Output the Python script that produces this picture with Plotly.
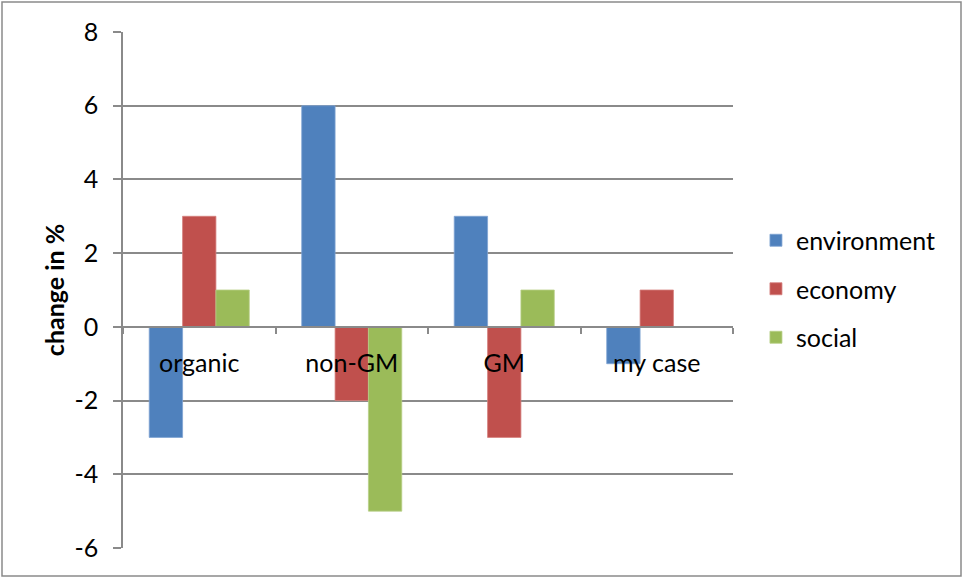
import plotly.graph_objects as go

# Scenario results per sustainability dimension
categories = ["organic", "non-GM", "GM", "my case"]
environment = [-3, 6, 3, -1]
economy = [3, -2, -3, 1]
social = [1, -5, 1, 0]

series_names = ["environment", "economy", "social"]
series_values = [environment, economy, social]
series_colors = ["#4F81BD", "#C0504D", "#9BBB59"]
edge_colors = ["#7FA3D3", "#D5807E", "#B7CF87"]

y_ticks = [-6, -4, -2, 0, 2, 4, 6, 8]
y_tick_labels = ["-6", "-4", "-2", "0", "2", "4", "6", "8"]
y_min, y_max = -6, 8

W, H = 963, 578
ML, MR, MT, MB = 123, 230, 32, 30
plot_w = W - ML - MR
plot_h = H - MT - MB

FONT = "Lato"
GRID = "#8A8A8A"

fig = go.Figure()
for name, vals, col, edge in zip(series_names, series_values, series_colors, edge_colors):
    fig.add_trace(go.Bar(
        x=categories, y=vals, name=name, legendgroup=name,
        marker=dict(color=col, line=dict(color=edge, width=0.8)),
    ))

fig.update_layout(
    width=W, height=H,
    margin=dict(l=ML, r=MR, t=MT, b=MB, pad=0),
    paper_bgcolor="white", plot_bgcolor="white",
    font=dict(family=FONT, size=25, color="black"),
    barmode="group", bargap=0.344, bargroupgap=0,
    showlegend=True,
    legend=dict(
        xref="container", yref="container",
        x=0.785, y=0.5, xanchor="left", yanchor="middle",
        font=dict(family=FONT, size=25, color="black"),
        tracegroupgap=13, itemwidth=30, bgcolor="rgba(0,0,0,0)",
    ),
    xaxis=dict(
        type="category", anchor="free",
        position=(0 - y_min) / (y_max - y_min),
        showline=True, linecolor=GRID, linewidth=1.5,
        showgrid=False, zeroline=False,
        ticks="outside", tickson="boundaries", ticklen=6,
        tickcolor=GRID, tickwidth=1.5,
        ticklabelstandoff=14,
        tickfont=dict(family=FONT, size=25, color="black"),
    ),
    yaxis=dict(
        range=[y_min, y_max], tickvals=y_ticks, ticktext=y_tick_labels,
        showline=True, linecolor=GRID, linewidth=1.5,
        showgrid=True, gridcolor=GRID, gridwidth=1.5,
        zeroline=False,
        ticks="outside", ticklen=8, tickcolor=GRID, tickwidth=1.5,
        ticklabelstandoff=10,
        tickfont=dict(family=FONT, size=25, color="black"),
        title=dict(text="<b>change in %</b>", standoff=3,
                   font=dict(family=FONT, size=25, color="black")),
    ),
)

# Outer chart border
fig.add_shape(
    type="rect", xref="paper", yref="paper",
    x0=(2 - ML) / plot_w, x1=(W - 2 - ML) / plot_w,
    y0=(H - MB - (H - 2)) / plot_h, y1=(H - MB - 2) / plot_h,
    line=dict(color="#8A8A8A", width=1.5), fillcolor="rgba(0,0,0,0)",
    layer="below",
)

fig.write_html("out.html")
